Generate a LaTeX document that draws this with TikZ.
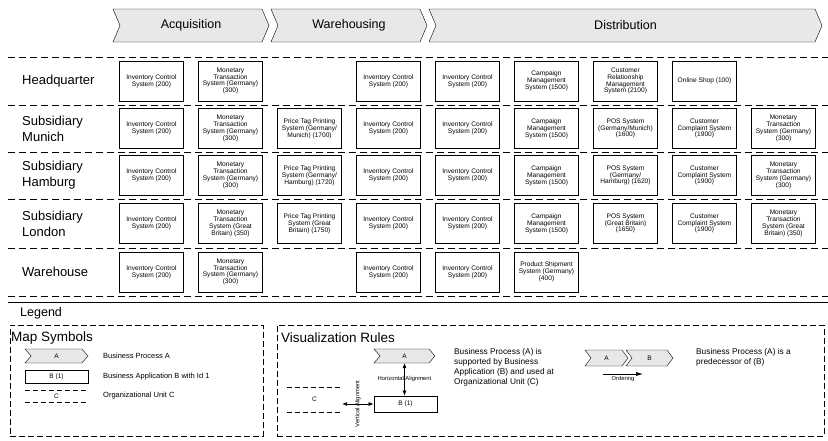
\documentclass[tikz,border=0pt]{standalone}
\usepackage{fontspec}
\setmainfont{Liberation Sans}
\usetikzlibrary{shapes.symbols, arrows.meta, positioning}

\begin{document}
\begin{tikzpicture}[x=1pt, y=-1pt, node distance=15pt,
    process/.style={signal, signal from=west, signal to=east, draw, thin, fill=gray!18, inner sep=0pt},
    app/.style={rectangle, draw, line width=0.9pt, minimum width=64pt, minimum height=40pt, outer sep=0pt, align=center, inner sep=1pt, font=\fontsize{6.6}{6.8}\selectfont},
    unit/.style={anchor=west, align=left, inner sep=0pt, font=\fontsize{13}{16}\selectfont},
    sep/.style={line width=0.8pt, dash pattern=on 7pt off 4pt},
    frame/.style={draw, dash pattern=on 6pt off 3pt, anchor=north west, inner sep=0pt},
    orgline/.style={dash pattern=on 5pt off 3pt},
    tiny/.style={font=\fontsize{6.5}{7}\selectfont},
    desc/.style={anchor=north west, align=left, inner sep=0pt, font=\fontsize{8.3}{10}\selectfont},
    title/.style={anchor=west, inner sep=0pt, font=\fontsize{13.5}{16}\selectfont},
    alignarrow/.style={{Latex[length=5pt,width=4pt]}-{Latex[length=5pt,width=4pt]}, semithick}]

\useasboundingbox (0,0) rectangle (828,440);

% Process chain
\node [process, minimum width=156pt, minimum height=33pt, signal pointer angle=134, font=\fontsize{12.5}{15}\selectfont] (acq) at (191,25.5) {Acquisition};
\node [process, minimum width=156pt, minimum height=33pt, signal pointer angle=134, font=\fontsize{12.5}{15}\selectfont] (ware) at (349,25.5) {Warehousing};
\node [process, minimum width=393pt, minimum height=33pt, signal pointer angle=134, font=\fontsize{12.5}{15}\selectfont] (dist) at (625.5,25.5) {Distribution};

% Organizational units
\foreach \y in {57,105,152,199,248,296}
    \draw[sep] (8,\y) -- (828,\y);
\draw[semithick] (8,302) -- (828,302);

\node [unit] (hq) at (22,81) {Headquarter};
\node [unit] (munich) at (22,128.5) {Subsidiary\\Munich};
\node [unit] (hamburg) at (22,175.5) {Subsidiary\\Hamburg};
\node [unit] (london) at (22,223.5) {Subsidiary\\London};
\node [unit] (wh) at (22,272) {Warehouse};

% Headquarter
\node [app] (hq1) at (151.5,81) {Inventory Control\\System (200)};
\node [app, right=of hq1] (hq2) {Monetary\\Transaction\\System (Germany)\\(300)};
\node [app, right=94pt of hq2] (hq4) {Inventory Control\\System (200)};
\node [app, right=of hq4] (hq5) {Inventory Control\\System (200)};
\node [app, right=of hq5] (hq6) {Campaign\\Management\\System (1500)};
\node [app, right=of hq6] (hq7) {Customer\\Relationship\\Management\\System (2100)};
\node [app, right=of hq7] (hq8) {Online Shop (100)};

% Subsidiary Munich
\node [app] (mu1) at (151.5,128.5) {Inventory Control\\System (200)};
\node [app, right=of mu1] (mu2) {Monetary\\Transaction\\System (Germany)\\(300)};
\node [app, right=of mu2] (mu3) {Price Tag Printing\\System (Germany/\\Munich) (1700)};
\node [app, right=of mu3] (mu4) {Inventory Control\\System (200)};
\node [app, right=of mu4] (mu5) {Inventory Control\\System (200)};
\node [app, right=of mu5] (mu6) {Campaign\\Management\\System (1500)};
\node [app, right=of mu6] (mu7) {POS System\\(Germany/Munich)\\(1600)};
\node [app, right=of mu7] (mu8) {Customer\\Complaint System\\(1900)};
\node [app, right=of mu8] (mu9) {Monetary\\Transaction\\System (Germany)\\(300)};

% Subsidiary Hamburg
\node [app] (ha1) at (151.5,175.5) {Inventory Control\\System (200)};
\node [app, right=of ha1] (ha2) {Monetary\\Transaction\\System (Germany)\\(300)};
\node [app, right=of ha2] (ha3) {Price Tag Printing\\System (Germany/\\Hamburg) (1720)};
\node [app, right=of ha3] (ha4) {Inventory Control\\System (200)};
\node [app, right=of ha4] (ha5) {Inventory Control\\System (200)};
\node [app, right=of ha5] (ha6) {Campaign\\Management\\System (1500)};
\node [app, right=of ha6] (ha7) {POS System\\(Germany/\\Hamburg) (1620)};
\node [app, right=of ha7] (ha8) {Customer\\Complaint System\\(1900)};
\node [app, right=of ha8] (ha9) {Monetary\\Transaction\\System (Germany)\\(300)};

% Subsidiary London
\node [app] (lo1) at (151.5,223.5) {Inventory Control\\System (200)};
\node [app, right=of lo1] (lo2) {Monetary\\Transaction\\System (Great\\Britain) (350)};
\node [app, right=of lo2] (lo3) {Price Tag Printing\\System (Great\\Britain) (1750)};
\node [app, right=of lo3] (lo4) {Inventory Control\\System (200)};
\node [app, right=of lo4] (lo5) {Inventory Control\\System (200)};
\node [app, right=of lo5] (lo6) {Campaign\\Management\\System (1500)};
\node [app, right=of lo6] (lo7) {POS System\\(Great Britain)\\(1650)};
\node [app, right=of lo7] (lo8) {Customer\\Complaint System\\(1900)};
\node [app, right=of lo8] (lo9) {Monetary\\Transaction\\System (Great\\Britain) (350)};

% Warehouse
\node [app] (wh1) at (151.5,272) {Inventory Control\\System (200)};
\node [app, right=of wh1] (wh2) {Monetary\\Transaction\\System (Germany)\\(300)};
\node [app, right=94pt of wh2] (wh4) {Inventory Control\\System (200)};
\node [app, right=of wh4] (wh5) {Inventory Control\\System (200)};
\node [app, right=of wh5] (wh6) {Product Shipment\\System (Germany)\\(400)};

% Legend
\node [anchor=west, inner sep=0pt, font=\fontsize{12.5}{15}\selectfont] (legend) at (20,313) {Legend};

\node [frame, minimum width=253pt, minimum height=111pt] (mapbox) at (10,325) {};
\node [title] (maptitle) at (11,338) {Map Symbols};
\node [process, minimum width=63pt, minimum height=14pt, signal pointer angle=98, tiny] (symA) at (56.5,356) {A};
\node [rectangle, draw, thick, minimum width=63pt, minimum height=13pt, inner sep=0pt, tiny] (symB) at (56.5,376.5) {B (1)};
\node [minimum width=63pt, minimum height=12pt, inner sep=0pt, tiny] (symC) at (56.5,396) {C};
\draw[orgline] (symC.north west) -- (symC.north east) (symC.south west) -- (symC.south east);
\node [anchor=west, inner sep=0pt, font=\fontsize{7.5}{9}\selectfont] (txtA) at (103,356) {Business Process A};
\node [anchor=west, inner sep=0pt, font=\fontsize{7.5}{9}\selectfont] (txtB) at (103,376.5) {Business Application B with Id 1};
\node [anchor=west, inner sep=0pt, font=\fontsize{7.5}{9}\selectfont] (txtC) at (103,396) {Organizational Unit C};

\node [frame, minimum width=547pt, minimum height=111pt] (visbox) at (277,325) {};
\node [title] (vistitle) at (281,338) {Visualization Rules};
\node [process, minimum width=61pt, minimum height=14pt, signal pointer angle=98, tiny] (vA) at (404.5,356) {A};
\node [rectangle, draw, thick, minimum width=63pt, minimum height=16pt, inner sep=0pt, tiny] (vB) at (405.5,404) {B (1)};
\node [minimum width=55pt, minimum height=25pt, inner sep=0pt, tiny] (vC) at (314.5,399.5) {C};
\draw[orgline] (vC.north west) -- (vC.north east) (vC.south west) -- (vC.south east);
\draw[alignarrow] (vA.south) -- (vA.south |- vB.north) node[midway, inner sep=0pt, font=\fontsize{5.8}{7}\selectfont] {Horizontal Alignment};
\draw[alignarrow] (vB.west -| vC.east) -- (vB.west) node[midway, rotate=90, inner sep=0pt, font=\fontsize{5.8}{7}\selectfont] {Vertical Alignment};
\node [desc] (vistxt) at (454,348) {Business Process (A) is\\supported by Business\\Application (B) and used at\\Organizational Unit (C)};

\node [process, minimum width=43pt, minimum height=16pt, signal pointer angle=106, tiny] (oA) at (606.5,358) {A};
\node [process, minimum width=47pt, minimum height=16pt, signal pointer angle=106, tiny] (oB) at (649.5,358) {B};
\coordinate (ordS) at (603,374);
\coordinate (ordE) at (643,374);
\draw[-{Latex[length=7pt,width=4pt]}, semithick] (ordS) -- (ordE) node[midway, below=2pt, inner sep=0pt, font=\fontsize{5.8}{7}\selectfont] {Ordering};
\node [desc] (ordtxt) at (696,348) {Business Process (A) is a\\predecessor of (B)};

\end{tikzpicture}
\end{document}
